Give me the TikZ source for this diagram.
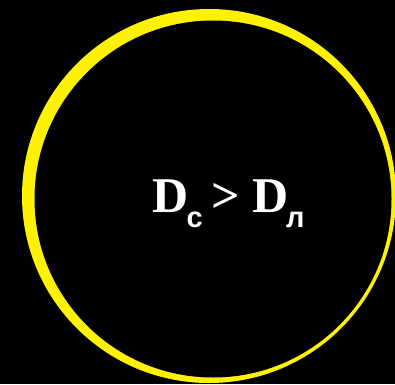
\documentclass[tikz,border=0pt]{standalone}
\usepackage{fontspec}
\setmainfont{Liberation Serif}
\newfontfamily\subfont{Liberation Sans}
\begin{document}
\begin{tikzpicture}[x=1pt,y=1pt,
  bigtxt/.style={inner sep=0pt, anchor=base west, text=white, font=\fontsize{50}{50}\selectfont\bfseries},
  subtxt/.style={inner sep=0pt, anchor=base west, text=white, font=\fontsize{29}{29}\selectfont\subfont\bfseries}]
\useasboundingbox (0,0) rectangle (395,384);
\fill[black] (0,0) rectangle (395,384);
\fill[yellow] (209,188) circle (187);
\fill[black] (213,185) circle (178.5);
\node[bigtxt] (d1) at (152,172) {D};
\node[subtxt] (s1) at (186.5,157) {с};
\node[bigtxt] (gt) at (211,172) {>};
\node[bigtxt] (d2) at (252,172) {D};
\node[subtxt] (s2) at (286,157) {л};
\end{tikzpicture}
\end{document}
